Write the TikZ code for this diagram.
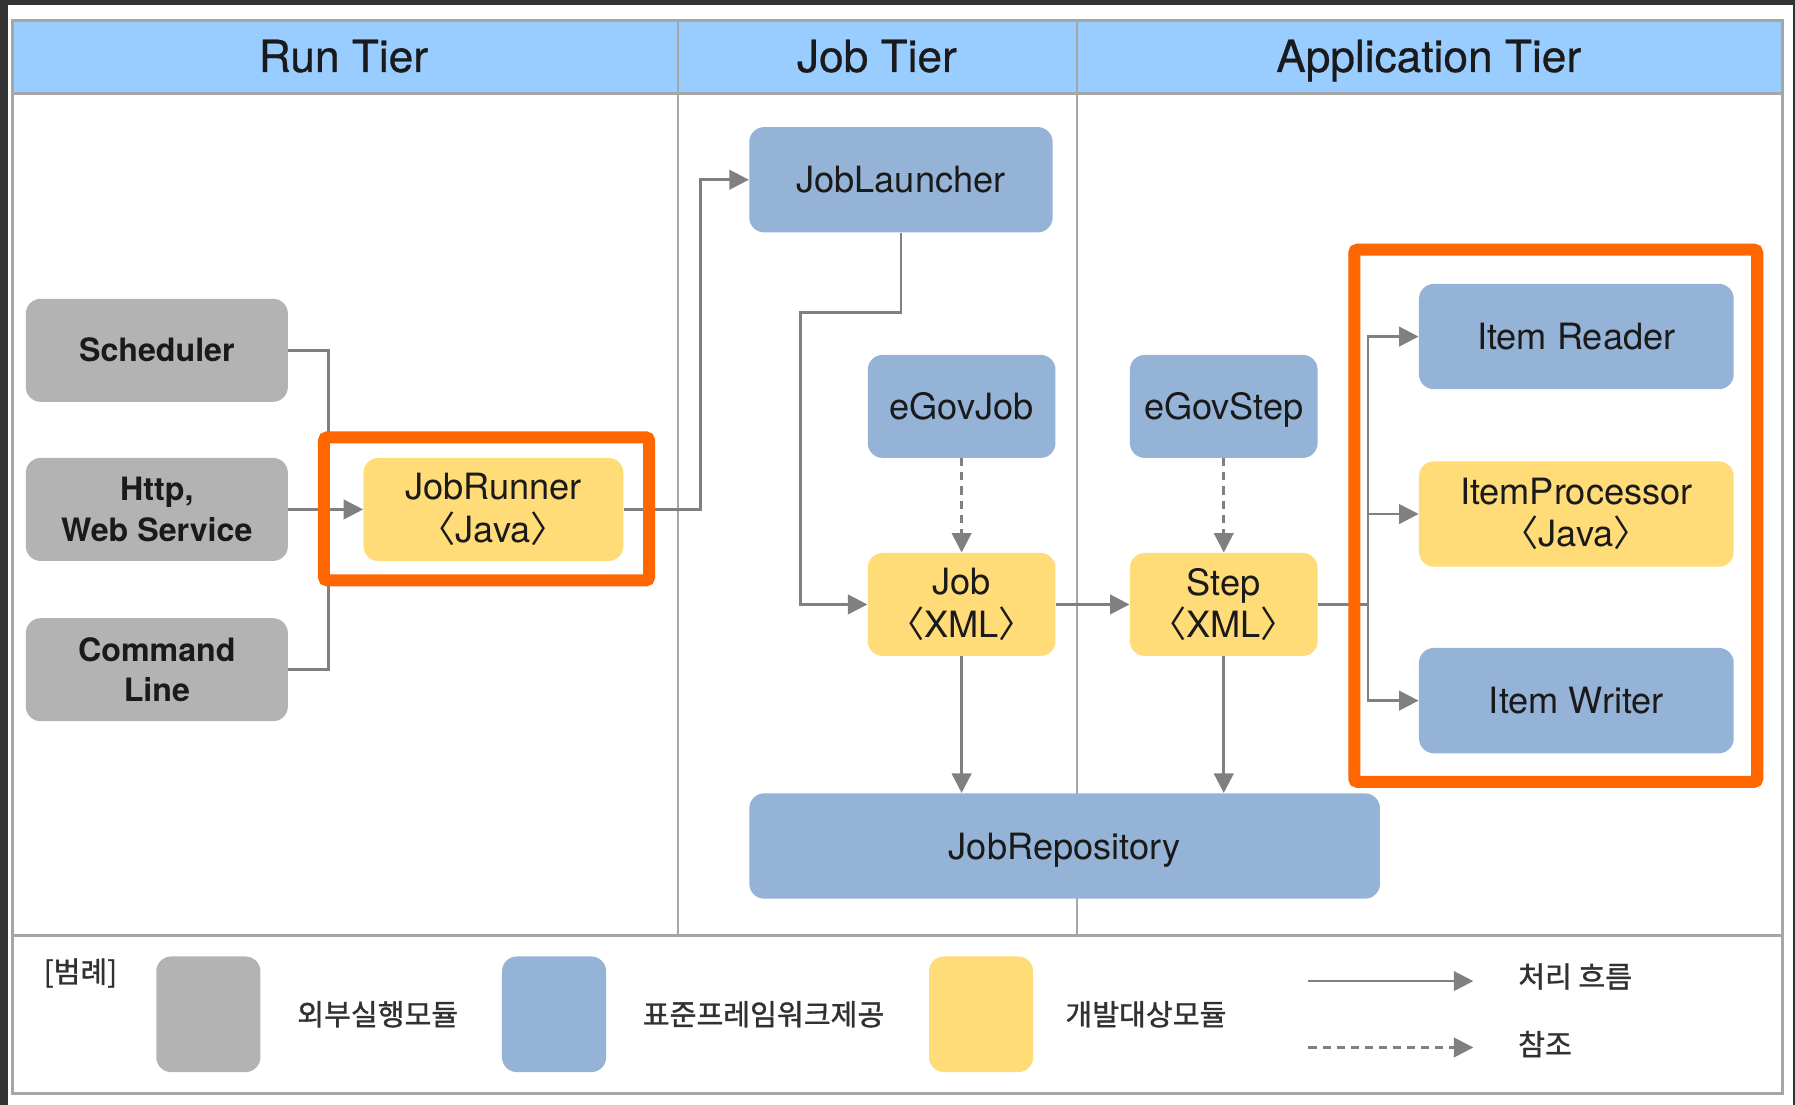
\documentclass[tikz,border=0pt]{standalone}
\usepackage{fontspec}
\setmainfont{TeX Gyre Heros}
\newfontfamily\kr[FakeBold=1.2]{Noto Sans CJK KR}
\newfontfamily\krplain{Noto Sans CJK KR}
\newfontfamily\headfont[FakeBold=0.6]{TeX Gyre Heros}
\usetikzlibrary{arrows.meta,positioning}

\definecolor{framedark}{HTML}{333333}
\definecolor{headblue}{HTML}{99CCFF}
\definecolor{extgray}{HTML}{B3B3B3}
\definecolor{stdblue}{HTML}{95B3D7}
\definecolor{devyellow}{HTML}{FFDC78}
\definecolor{hilite}{HTML}{FF6600}
\definecolor{wire}{HTML}{808080}
\definecolor{rulegray}{HTML}{A6A6A6}
\definecolor{ink}{HTML}{1A1A1A}

\tikzset{
  module/.style={rounded corners=0.26cm, inner sep=0pt, align=center, text=ink,
    font=\fontsize{18}{21}\selectfont},
  oneline/.style={text height=13pt, text depth=0pt},
  extmod/.style={module, fill=extgray, minimum width=4.58cm, minimum height=1.8cm,
    font=\bfseries\fontsize{16}{20}\selectfont},
  stdmod/.style={module, fill=stdblue},
  devmod/.style={module, fill=devyellow},
  smallmod/.style={minimum width=3.28cm, minimum height=1.8cm},
  itemmod/.style={minimum width=5.5cm, minimum height=1.84cm},
  flow/.style={draw=wire, line width=1.3pt, -{Triangle[length=0.34cm,width=0.34cm]}},
  wireline/.style={draw=wire, line width=1.3pt},
  refer/.style={flow, dash pattern=on 4pt off 3pt},
  tiertitle/.style={font=\headfont\fontsize{22}{24}\selectfont, text=ink,
    text height=15.8pt, text depth=0pt},
  legendtxt/.style={font=\kr\fontsize{14.5}{17}\selectfont, text=ink!90},
  swatch/.style={rounded corners=0.26cm, minimum width=1.82cm, minimum height=2.02cm, inner sep=0pt},
  focus/.style={draw=hilite, line width=0.21cm, rounded corners=0.06cm},
}
\newcommand{\jv}[1]{{\krplain 〈}#1{\krplain 〉}}

\begin{document}
\begin{tikzpicture}[x=0.02cm, y=-0.02cm]
\useasboundingbox (0,0) rectangle (1568,965);
\fill[framedark] (0,0) rectangle (1568,965);
\fill[white] (7,4) rectangle (1566,965);

% tier frame
\fill[headblue] (11,18) rectangle (1557,82);
\draw[rulegray, line width=0.05cm] (11,82) -- (1557,82);
\draw[rulegray, line width=0.04cm] (592,18) -- (592,817) (941,18) -- (941,817);
\draw[rulegray, line width=0.06cm] (11,18) rectangle (1557,817);
\draw[rulegray, line width=0.06cm] (11,817) rectangle (1557,955);
\node[tiertitle] (runtier) at (300,49) {Run Tier};
\node[tiertitle] (jobtier) at (766,49) {Job Tier};
\node[tiertitle] (apptier) at (1248,49) {Application Tier};

% run tier
\node[extmod, text height=11.5pt, text depth=0pt] (sched) at (137,306) {Scheduler};
\node[extmod] (http) at (137,445) {Http,\\Web Service};
\node[extmod] (cmd) at (137,585) {Command\\Line};
\node[devmod, minimum width=4.54cm, minimum height=1.8cm] (runner) at (431,445) {JobRunner\\\jv{Java}};

% job tier
\node[stdmod, oneline, minimum width=5.3cm, minimum height=1.84cm] (launcher) at (787,157) {JobLauncher};
\node[stdmod, oneline, smallmod] (egovjob) at (840,355) {eGovJob};
\node[devmod, smallmod] (job) at (840,528) {Job\\\jv{XML}};
\node[stdmod, oneline, minimum width=11.02cm, minimum height=1.84cm] (repo) at (930,739) {JobRepository};

% application tier
\node[stdmod, oneline, smallmod] (egovstep) at (1069,355) {eGovStep};
\node[devmod, smallmod] (step) at (1069,528) {Step\\\jv{XML}};
\node[stdmod, oneline, itemmod] (reader) at (1377,294) {Item Reader};
\node[devmod, itemmod] (processor) at (1377,449) {ItemProcessor\\\jv{Java}};
\node[stdmod, oneline, itemmod] (writer) at (1377,612) {Item Writer};

% connectors
\coordinate (merge) at (287,445);
\coordinate (bend) at (699,273);
\coordinate (split) at (1195,528);
\draw[wireline] (sched.east) -| (merge) |- (cmd.east);
\draw[flow] (http) -- (runner);
\draw[flow] (runner.east) -- ++(67,0) |- (launcher.west);
\draw[flow] (launcher.south) |- (bend) |- (job.west);
\draw[refer] (egovjob) -- (job);
\draw[refer] (egovstep) -- (step);
\draw[flow] (job) -- (step);
\draw[flow] (job.south) -- (job.south |- repo.north);
\draw[flow] (step.south) -- (step.south |- repo.north);
\draw[wireline] (step.east) -- (split);
\foreach \t in {reader,processor,writer}
  \draw[flow] (split) |- (\t.west);

% highlights
\draw[focus] (283,382) rectangle (567,507);
\draw[focus] (1183,218) rectangle (1535,683);

% legend
\node[legendtxt, anchor=north west] (legendhead) at (32,831) {[범례]};
\node[swatch, fill=extgray] (swext) at (182,886) {};
\node[legendtxt] (extlabel) at (330,886) {외부실행모듈};
\node[swatch, fill=stdblue] (swstd) at (484,886) {};
\node[legendtxt] (stdlabel) at (667,886) {표준프레임워크제공};
\node[swatch, fill=devyellow] (swdev) at (857,886) {};
\node[legendtxt] (devlabel) at (1001,886) {개발대상모듈};
\coordinate (flowa) at (1143,857);
\coordinate (flowb) at (1287,857);
\coordinate (refa) at (1143,915);
\coordinate (refb) at (1287,915);
\draw[flow] (flowa) -- (flowb);
\draw[refer] (refa) -- (refb);
\node[legendtxt, anchor=west] (flowlabel) at (1320,853) {처리 흐름};
\node[legendtxt, anchor=west] (reflabel) at (1320,912) {참조};
\end{tikzpicture}
\end{document}
